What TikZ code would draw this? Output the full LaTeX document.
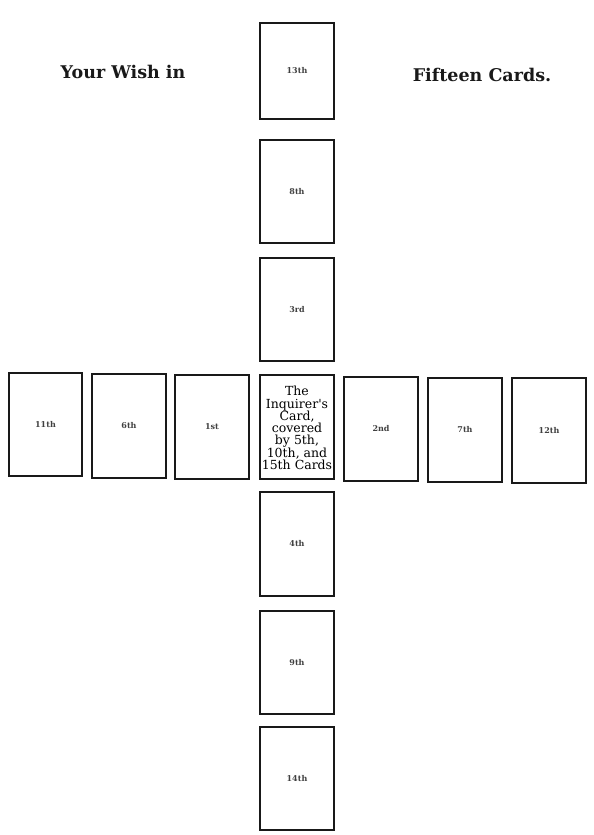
\documentclass[tikz,border=0pt]{standalone}
\usepackage{fontspec}
\newfontfamily\titlefont{DejaVu Serif}
\newfontfamily\cardfont{DejaVu Serif}
\begin{document}
\begin{tikzpicture}[x=1pt,y=-1pt,
  card/.style={draw=black!90,line width=2pt,minimum width=74pt,minimum height=102pt,inner sep=0pt,anchor=north west,font=\cardfont\fontsize{8}{9}\selectfont\bfseries,text=black!75},
  title/.style={font=\titlefont\bfseries\fontsize{17.5}{20}\selectfont,text=black!90}]
\useasboundingbox (0,0) rectangle (594,835);
\node[card,minimum height=96pt] (c13) at (259,22) {13th};
\node[card,minimum height=103pt] (c8) at (259,139) {8th};
\node[card,minimum height=103pt] (c3) at (259,257) {3rd};
\node[card,minimum height=104pt] (c0) at (259,374) {};
\node[align=center,font=\cardfont\fontsize{12.5}{12.3}\selectfont,text=black,inner sep=0pt] (c0t) at ([yshift=-1pt]c0.center) {The\\Inquirer's\\Card,\\covered\\by 5th,\\10th, and\\15th Cards};
\node[card,minimum height=104pt] (c4) at (259,491) {4th};
\node[card,minimum height=103pt] (c9) at (259,610) {9th};
\node[card,minimum height=103pt] (c14) at (259,726) {14th};
\node[card,minimum width=73pt,minimum height=103pt] (c11) at (8,372) {11th};
\node[card,minimum height=104pt] (c6) at (91,373) {6th};
\node[card,minimum height=104pt] (c1) at (174,374) {1st};
\node[card,minimum height=104pt] (c2) at (343,376) {2nd};
\node[card,minimum height=104pt] (c7) at (427,377) {7th};
\node[card,minimum height=105pt] (c12) at (511,377) {12th};
\node[title] (t1) at (123,72) {Your Wish in};
\node[title] (t2) at (482,75) {Fifteen Cards.};
\end{tikzpicture}
\end{document}
